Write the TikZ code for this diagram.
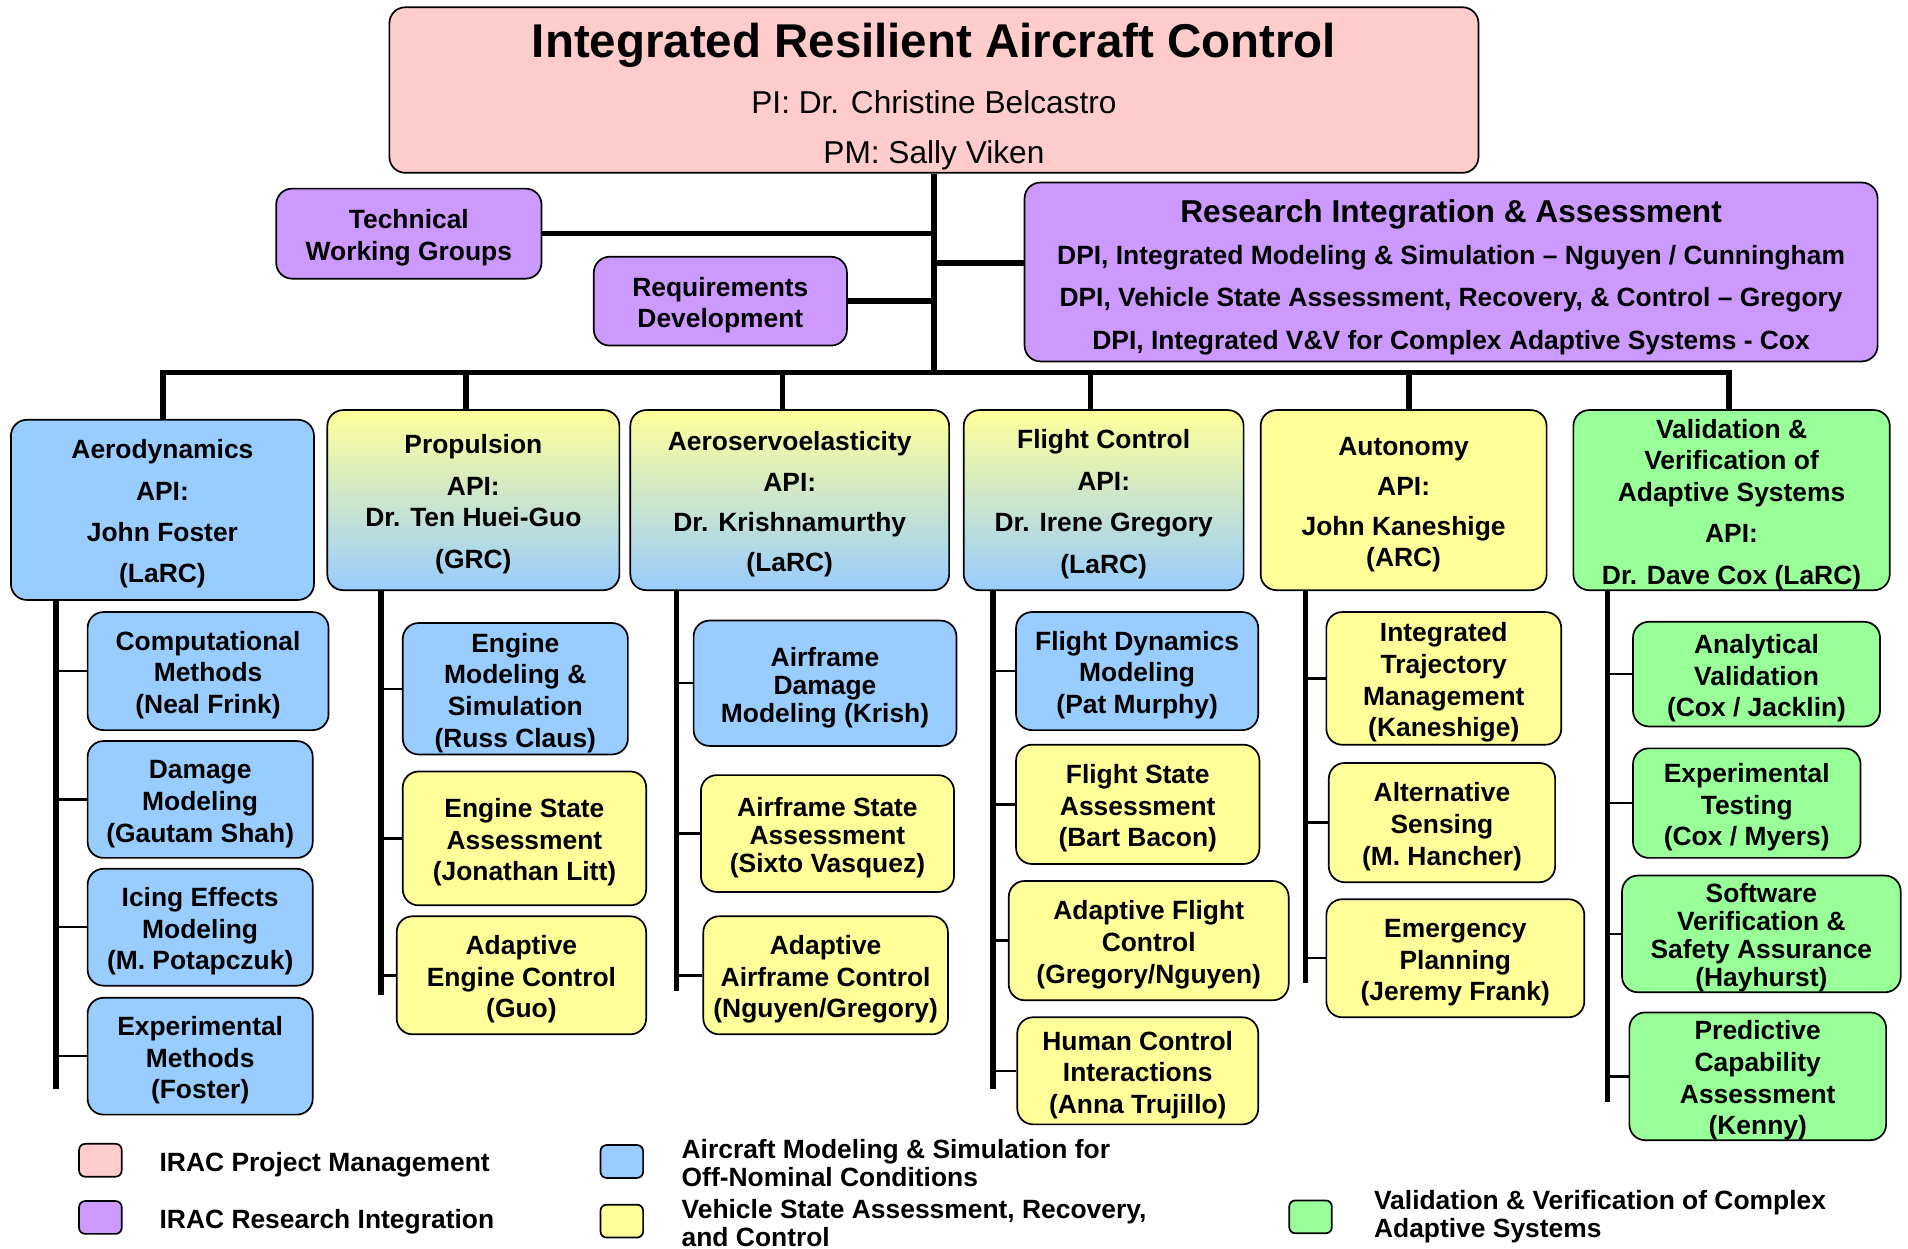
\documentclass[tikz,border=0pt]{standalone}
\usepackage{fontspec}
\setmainfont{Liberation Sans}
\definecolor{pinkbox}{HTML}{FFCCCC}
\definecolor{violetbox}{HTML}{CC99FF}
\definecolor{bluebox}{HTML}{99CCFF}
\definecolor{yellowbox}{HTML}{FFFF99}
\definecolor{greenbox}{HTML}{99FF99}
% raise the first line of a card so the lines sit at the centre of the box
\newcommand\cardcap[1][22.4pt]{\rule{0pt}{#1}}
\tikzset{
  card/.style={draw=black, line width=1.4pt, rounded corners=13pt, align=center,
    inner sep=0pt, font=\bfseries\fontsize{21.7}{26}\selectfont},
  sz/.style 2 args={minimum width=#1pt, minimum height=#2pt},
  pmbox/.style={card, fill=pinkbox},
  ribox/.style={card, fill=violetbox},
  simbox/.style={card, fill=bluebox},
  vsabox/.style={card, fill=yellowbox},
  vvbox/.style={card, fill=greenbox},
  mixbox/.style={card, top color=yellowbox, bottom color=bluebox},
  trunk/.style={line width=4.5pt},
  tick/.style={line width=2pt},
  swatch/.style={draw=black, line width=1.4pt, rounded corners=5pt, minimum width=35pt, minimum height=27pt, inner sep=0pt},
  legtext/.style={anchor=west, align=left, inner sep=0pt, font=\bfseries\fontsize{21.7}{23}\selectfont},
}
\begin{document}
\begin{tikzpicture}[x=1pt, y=-1pt]
\useasboundingbox (0,0) rectangle (1568,1026);

% project management and research integration
\node[pmbox, sz={895}{136}, font=\fontsize{26}{26}\selectfont] (top) at (767.5,74)
  {{\bfseries\fontsize{39}{39}\selectfont\cardcap[39.6pt]Integrated Resilient Aircraft Control}\\[18pt]
   PI: Dr. Christine Belcastro\\[15pt]PM: Sally Viken};
\node[ribox, sz={218}{74}] (twg) at (336,192) {\cardcap Technical\\Working Groups};
\node[ribox, sz={208}{73}] (req) at (592,247.5) {\cardcap Requirements\\Development};
\node[ribox, sz={701}{147}] (ria) at (1192.5,223.5)
  {{\fontsize{26}{26}\selectfont\cardcap[28pt]Research Integration \& Assessment}\\[8pt]
   DPI, Integrated Modeling \& Simulation – Nguyen / Cunningham\\[9pt]
   DPI, Vehicle State Assessment, Recovery, \& Control – Gregory\\[9pt]
   DPI, Integrated V\&V for Complex Adaptive Systems - Cox};

% discipline heads
\node[simbox, sz={249}{148}] (aero) at (133.5,419)
  {\cardcap Aerodynamics\\[8pt]API:\\[8pt]John Foster\\[8pt](LaRC)};
\node[mixbox, sz={240}{148}] (prop) at (389,411)
  {\cardcap Propulsion\\[8pt]API:\\Dr. Ten Huei-Guo\\[8pt](GRC)};
\node[mixbox, sz={262}{148}] (ase) at (649,411)
  {\cardcap Aeroservoelasticity\\[8pt]API:\\[7pt]Dr. Krishnamurthy\\[7pt](LaRC)};
\node[mixbox, sz={230}{148}] (fc) at (907,411)
  {\cardcap Flight Control\\[8pt]API:\\[8pt]Dr. Irene Gregory\\[8pt](LaRC)};
\node[vsabox, sz={235}{148}] (auto) at (1153.5,411)
  {\cardcap Autonomy\\[7pt]API:\\[7pt]John Kaneshige\\(ARC)};
\node[vvbox, sz={260}{148}] (vnv) at (1423,411)
  {\cardcap Validation \&\\Verification of\\Adaptive Systems\\[8pt]API:\\[8pt]Dr. Dave Cox (LaRC)};

% aerodynamics tasks
\node[simbox, sz={198}{97}] (comp) at (171,551.5) {\cardcap Computational\\Methods\\(Neal Frink)};
\node[simbox, sz={185}{96}] (dmg) at (164.5,657) {\cardcap Damage\\Modeling\\(Gautam Shah)};
\node[simbox, sz={185}{96}] (icing) at (164.5,762) {\cardcap Icing Effects\\Modeling\\(M. Potapczuk)};
\node[simbox, sz={185}{96}] (expm) at (164.5,868) {\cardcap Experimental\\Methods\\(Foster)};

% propulsion tasks
\node[simbox, sz={185}{108}] (ems) at (423.5,566) {\cardcap Engine\\Modeling \&\\Simulation\\(Russ Claus)};
\node[vsabox, sz={200}{110}] (esa) at (431,689) {\cardcap Engine State\\Assessment\\(Jonathan Litt)};
\node[vsabox, sz={205}{97}] (aec) at (428.5,801.5) {\cardcap Adaptive\\Engine Control\\(Guo)};

% aeroservoelasticity tasks
\node[simbox, sz={216}{103}] (adm) at (678,561.5) {\cardcap Airframe\\[-3pt]Damage\\[-3pt]Modeling (Krish)};
\node[vsabox, sz={208}{96}] (asa) at (680,685) {\cardcap Airframe State\\[-3pt]Assessment\\[-3pt](Sixto Vasquez)};
\node[vsabox, sz={201}{97}] (aac) at (678.5,801.5) {\cardcap Adaptive\\Airframe Control\\(Nguyen/Gregory)};

% flight control tasks
\node[simbox, sz={199}{97}] (fdm) at (934.5,551.5) {\cardcap Flight Dynamics\\Modeling\\(Pat Murphy)};
\node[vsabox, sz={200}{98}] (fsa) at (935,661) {\cardcap Flight State\\Assessment\\(Bart Bacon)};
\node[vsabox, sz={230}{98}] (afc) at (944,773) {\cardcap Adaptive Flight\\Control\\(Gregory/Nguyen)};
\node[vsabox, sz={198}{88}] (hci) at (935,880) {\cardcap Human Control\\Interactions\\(Anna Trujillo)};

% autonomy tasks
\node[vsabox, sz={193}{109}] (itm) at (1186.5,557.5) {\cardcap Integrated\\Trajectory\\Management\\(Kaneshige)};
\node[vsabox, sz={186}{98}] (als) at (1185,676) {\cardcap Alternative\\Sensing\\(M. Hancher)};
\node[vsabox, sz={212}{97}] (emp) at (1196,787.5) {\cardcap Emergency\\Planning\\(Jeremy Frank)};

% V&V tasks
\node[vvbox, sz={203}{86}] (anv) at (1443.5,554) {\cardcap Analytical\\Validation\\(Cox / Jacklin)};
\node[vvbox, sz={187}{90}] (ext) at (1435.5,660) {\cardcap Experimental\\Testing\\(Cox / Myers)};
\node[vvbox, sz={229}{95}] (swv) at (1447.5,767.5) {\cardcap Software\\[-3pt]Verification \&\\[-3pt]Safety Assurance\\[-3pt](Hayhurst)};
\node[vvbox, sz={211}{105}] (pca) at (1444.5,884.5) {\cardcap Predictive\\Capability\\Assessment\\(Kenny)};

% bus and drops
\coordinate (b1) at (134,306);
\coordinate (b2) at (383,306);
\coordinate (b3) at (643,306);
\coordinate (b4) at (896,306);
\coordinate (b5) at (1158,306);
\coordinate (b6) at (1421,306);
\draw[trunk] (top.south) -- (top.south |- b1);
\draw[trunk, line join=miter] (aero.north -| b1) -- (b1) -- (b6) -- (vnv.north -| b6);
\draw[trunk] (b2) -- (prop.north -| b2);
\draw[trunk] (b3) -- (ase.north -| b3);
\draw[trunk] (b4) -- (fc.north -| b4);
\draw[trunk] (b5) -- (auto.north -| b5);

% side branches
\coordinate (riaj) at (767.5,216);
\draw[trunk] (twg.east) -- (twg.east -| top.south);
\draw[trunk] (req.east) -- (req.east -| top.south);
\draw[trunk] (riaj) -- (riaj -| ria.west);

% column spines
\coordinate (e1) at (46,895);
\coordinate (e2) at (313,818);
\coordinate (e3) at (556,814);
\coordinate (e4) at (816,895);
\coordinate (e5) at (1073,808);
\coordinate (e6) at (1321,906);
\draw[trunk] (aero.south -| e1) -- (e1);
\draw[trunk] (prop.south -| e2) -- (e2);
\draw[trunk] (ase.south -| e3) -- (e3);
\draw[trunk] (fc.south -| e4) -- (e4);
\draw[trunk] (auto.south -| e5) -- (e5);
\draw[trunk] (vnv.south -| e6) -- (e6);

% task ticks
\foreach \t in {comp,dmg,icing,expm} \draw[tick] (\t.west) -- (\t.west -| e1);
\foreach \t in {ems,esa,aec} \draw[tick] (\t.west) -- (\t.west -| e2);
\foreach \t in {adm,asa,aac} \draw[tick] (\t.west) -- (\t.west -| e3);
\foreach \t in {fdm,fsa,afc,hci} \draw[tick] (\t.west) -- (\t.west -| e4);
\foreach \t in {itm,als,emp} \draw[tick] (\t.west) -- (\t.west -| e5);
\foreach \t in {anv,ext,swv,pca} \draw[tick] (\t.west) -- (\t.west -| e6);

% legend
\node[swatch, fill=pinkbox] (lg1) at (82.5,953.5) {};
\node[legtext] (lt1) at (131,957) {IRAC Project Management};
\node[swatch, fill=violetbox] (lg2) at (82.5,1000.5) {};
\node[legtext] (lt2) at (131,1004) {IRAC Research Integration};
\node[swatch, fill=bluebox] (lg3) at (511,954.5) {};
\node[legtext] (lt3) at (560,956) {Aircraft Modeling \& Simulation for\\Off-Nominal Conditions};
\node[swatch, fill=yellowbox] (lg4) at (511,1003.5) {};
\node[legtext] (lt4) at (560,1005) {Vehicle State Assessment, Recovery,\\and Control};
\node[swatch, fill=greenbox] (lg5) at (1077,1000) {};
\node[legtext] (lt5) at (1129,1000) {Validation \& Verification of Complex\\Adaptive Systems};
\end{tikzpicture}
\end{document}
